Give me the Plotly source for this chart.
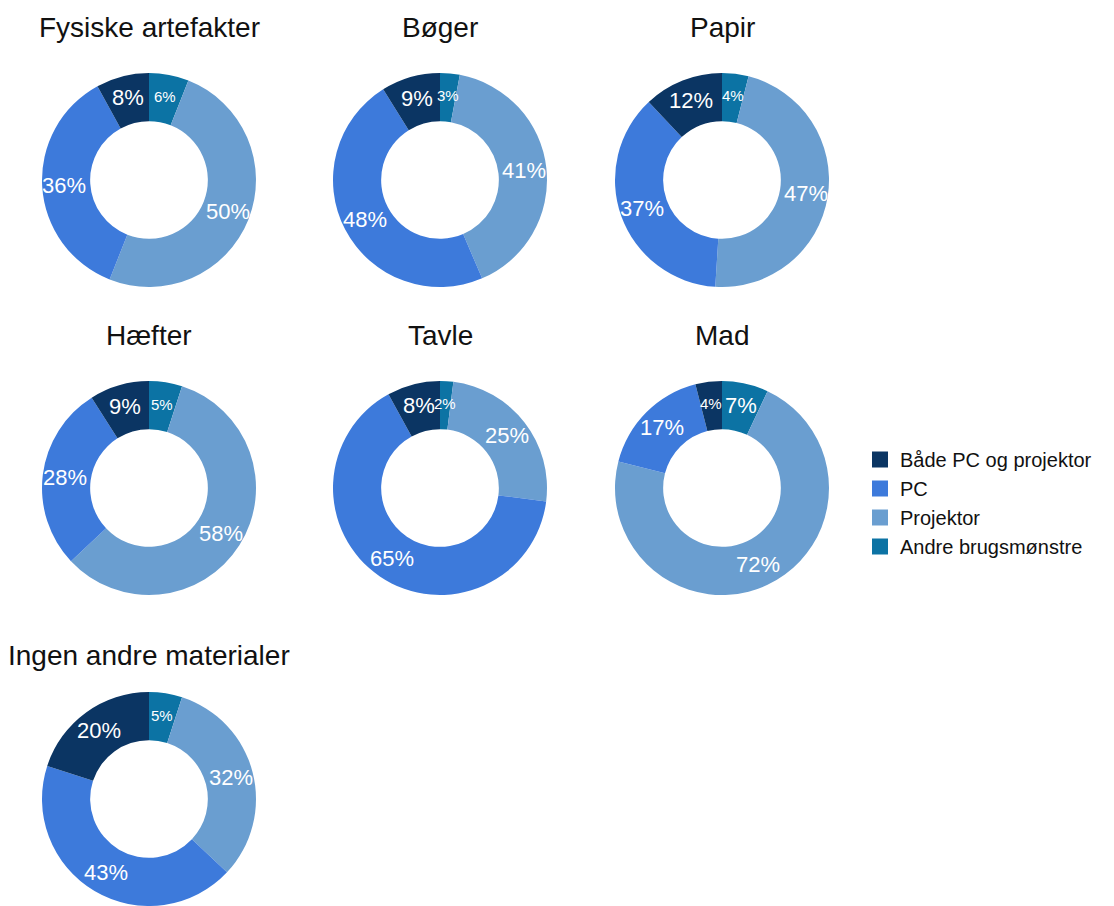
import math
import plotly.graph_objects as go

# Usage-pattern shares (%) per material type
categories = ["Både PC og projektor", "PC", "Projektor", "Andre brugsmønstre"]
colors = ["#0b3563", "#3d7adb", "#6a9ed0", "#0c73a4"]

titles = [
    "Fysiske artefakter", "Bøger", "Papir",
    "Hæfter", "Tavle", "Mad",
    "Ingen andre materialer",
]

fysiske_artefakter = [8, 36, 50, 6]
boger = [9, 48, 41, 3]
papir = [12, 37, 47, 4]
haefter = [9, 28, 58, 5]
tavle = [8, 65, 25, 2]
mad = [4, 17, 72, 7]
ingen_andre = [20, 43, 32, 5]

series = [fysiske_artefakter, boger, papir, haefter, tavle, mad, ingen_andre]

FONT = "Liberation Sans, Arial, Helvetica, sans-serif"
W, H = 1114, 906
R = 107            # outer radius (px)
HOLE = 0.55
LABEL_R = 85       # radius at which slice labels sit (px)
col_cx = [149, 440, 722]
row_cy = [180, 488, 799]
row_title_y = [27, 335, 655]

fig = go.Figure()
annotations = []

for i, (title, vals) in enumerate(zip(titles, series)):
    r, c = divmod(i, 3)
    cx, cy = col_cx[c], row_cy[r]
    x0, x1 = (cx - R) / W, (cx + R) / W
    y0, y1 = max(0.0, 1 - (cy + R) / H), min(1.0, 1 - (cy - R) / H)

    # slices run clockwise from 12 o'clock in reverse legend order
    order = list(range(len(categories)))[::-1]
    labels_cw = [categories[k] for k in order]
    vals_cw = [vals[k] for k in order]
    colors_cw = [colors[k] for k in order]

    fig.add_trace(go.Pie(
        labels=labels_cw,
        values=vals_cw,
        hole=HOLE,
        sort=False,
        direction="clockwise",
        rotation=0,
        marker=dict(colors=colors_cw, line=dict(width=0)),
        textinfo="none",
        hoverinfo="label+value",
        domain=dict(x=[x0, x1], y=[y0, y1]),
        showlegend=False,
    ))

    # horizontal percentage labels at each slice's mid angle
    total = sum(vals_cw)
    acc = 0.0
    for v in vals_cw:
        mid = (acc + v / 2) / total * 2 * math.pi
        acc += v
        px = cx + LABEL_R * math.sin(mid)
        py = cy - LABEL_R * math.cos(mid)
        annotations.append(dict(
            text=f"{v}%", x=px / W, y=1 - py / H,
            xref="paper", yref="paper", xanchor="center", yanchor="middle",
            showarrow=False,
            font=dict(size=22 if v >= 7 else 15, color="white", family=FONT),
        ))

    annotations.append(dict(
        text=title, x=cx / W, y=1 - row_title_y[r] / H,
        xref="paper", yref="paper", xanchor="center", yanchor="middle",
        showarrow=False,
        font=dict(size=28, color="#111111", family=FONT),
    ))

# legend entries with square swatches
for name, col in zip(categories, colors):
    fig.add_trace(go.Scatter(
        x=[None], y=[None], mode="markers", name=name,
        marker=dict(symbol="square", size=16, color=col),
        hoverinfo="skip",
    ))

fig.update_layout(
    width=W, height=H,
    margin=dict(l=0, r=0, t=0, b=0),
    paper_bgcolor="white",
    plot_bgcolor="white",
    xaxis=dict(visible=False),
    yaxis=dict(visible=False),
    annotations=annotations,
    legend=dict(
        x=860 / W, y=1 - 440 / H, xanchor="left", yanchor="top",
        font=dict(size=20, color="#111111", family=FONT),
        tracegroupgap=0, bgcolor="rgba(0,0,0,0)",
    ),
)

fig.write_html("out.html")
